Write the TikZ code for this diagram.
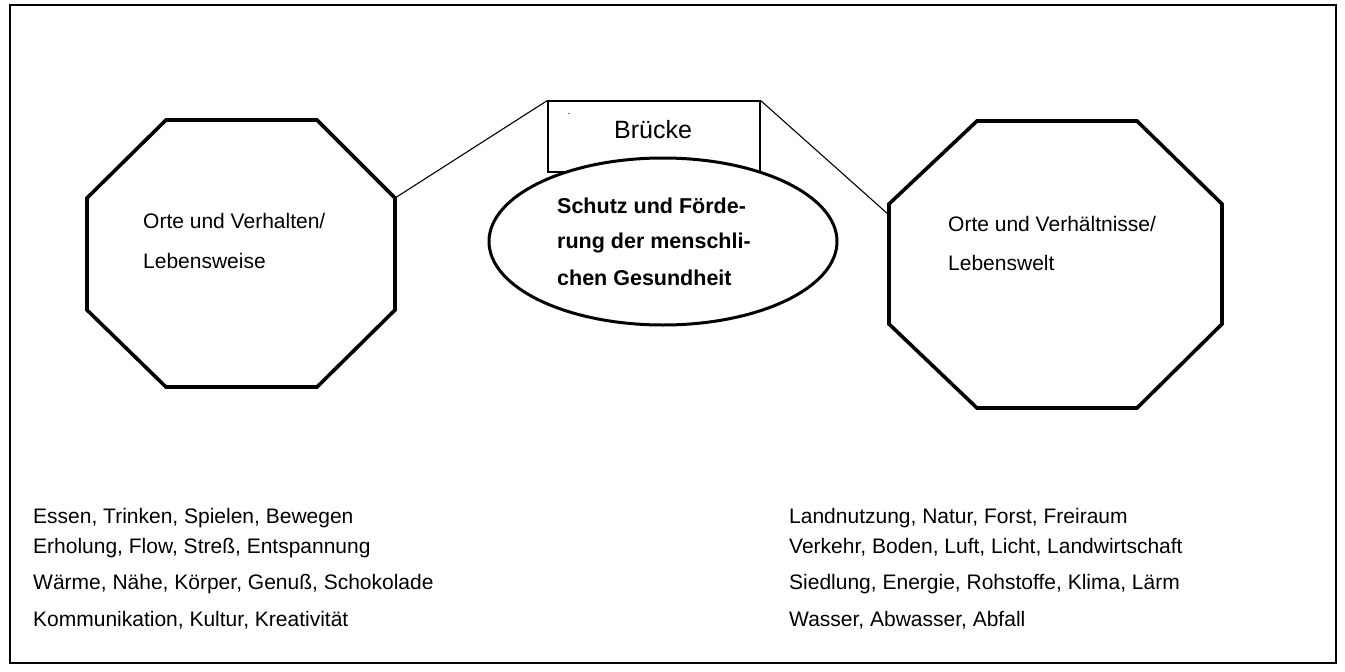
\documentclass[tikz,border=0pt]{standalone}
\usepackage{fontspec}
\setmainfont{Liberation Sans}
\usetikzlibrary{shapes.geometric}
\begin{document}
\begin{tikzpicture}[x=1pt,y=-1pt,
  octagon/.style={line width=3.6pt, line join=miter},
  thinline/.style={line width=1.1pt},
  txt/.style={anchor=base west, inner sep=0pt, font=\fontsize{21}{25}\selectfont},
  boldtxt/.style={anchor=base west, inner sep=0pt, font=\fontsize{21.5}{25}\selectfont\bfseries},
]
\useasboundingbox (0,0) rectangle (1345,672);
% outer frame
\draw[line width=2pt] (10,5) rectangle (1336,663);

% left octagon: Lebensweise
\coordinate (L1) at (166,120);
\coordinate (L2) at (317,120);
\coordinate (L3) at (395,198);
\coordinate (L4) at (395,310);
\coordinate (L5) at (317,387);
\coordinate (L6) at (166,387);
\coordinate (L7) at (87,310);
\coordinate (L8) at (87,198);
\draw[octagon] (L1) -- (L2) -- (L3) -- (L4) -- (L5) -- (L6) -- (L7) -- (L8) -- cycle;

% right octagon: Lebenswelt
\coordinate (R1) at (977,121);
\coordinate (R2) at (1137,121);
\coordinate (R3) at (1222,204);
\coordinate (R4) at (1222,324);
\coordinate (R5) at (1137,408);
\coordinate (R6) at (977,408);
\coordinate (R7) at (889,324);
\coordinate (R8) at (889,204);
\coordinate (Rb) at (889,215);
\draw[octagon] (R1) -- (R2) -- (R3) -- (R4) -- (R5) -- (R6) -- (R7) -- (R8) -- cycle;

% bridge box with its ropes
\node[draw, thinline, minimum width=212pt, minimum height=71pt, inner sep=0pt] (bridge) at (654,136.5) {};
\draw[thinline] (bridge.north west) -- (L3);
\draw[thinline] (bridge.north east) -- (Rb);
\node[anchor=base, inner sep=0pt, font=\fontsize{25}{28}\selectfont] (brtxt) at (653,138) {Brücke};
\node[anchor=base, inner sep=0pt, font=\fontsize{10}{12}\selectfont] (dot) at (569,114) {.};

% central ellipse
\node[ellipse, draw, fill=white, line width=3pt, minimum width=348pt, minimum height=167pt, inner sep=0pt] (goal) at (663,241.5) {};
\node[boldtxt] (g1) at (557,213) {Schutz und Förde-};
\node[boldtxt] (g2) at (557,248) {rung der menschli-};
\node[boldtxt] (g3) at (557,285) {chen Gesundheit};

% octagon labels
\node[txt] (lw1) at (143,228) {Orte und Verhalten/};
\node[txt] (lw2) at (143,268) {Lebensweise};
\node[txt] (rw1) at (948,231) {Orte und Verhältnisse/};
\node[txt] (rw2) at (948,270) {Lebenswelt};

% lists
\node[txt] (a1) at (33,523) {Essen, Trinken, Spielen, Bewegen};
\node[txt] (a2) at (33,553) {Erholung, Flow, Streß, Entspannung};
\node[txt] (a3) at (33,589) {Wärme, Nähe, Körper, Genuß, Schokolade};
\node[txt] (a4) at (33,626) {Kommunikation, Kultur, Kreativität};
\node[txt] (b1) at (789,523) {Landnutzung, Natur, Forst, Freiraum};
\node[txt] (b2) at (789,553) {Verkehr, Boden, Luft, Licht, Landwirtschaft};
\node[txt] (b3) at (789,589) {Siedlung, Energie, Rohstoffe, Klima, Lärm};
\node[txt] (b4) at (789,626) {Wasser, Abwasser, Abfall};
\end{tikzpicture}
\end{document}
